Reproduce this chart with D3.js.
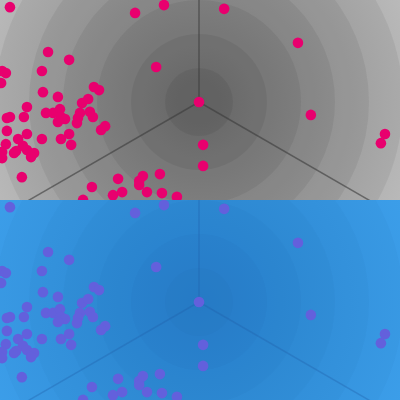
<!DOCTYPE html>
<html>
<head>
<meta charset="utf-8">
<script src="https://cdn.jsdelivr.net/npm/d3@7"></script>
<style>
  html, body { margin: 0; padding: 0; background: #fff; }
  svg { display: block; }
</style>
</head>
<body>
<div id="chart"></div>
<script>
// ring levels and the three spokes (degrees clockwise from top)
const ringLevels = [1, 2, 3, 4, 5, 6];
const axisAngles = [0, 120, 240];

// points, in ring units from the centre (x right, y up)
const points = [
  [-5.56, 2.79], [-1.88, 2.62], [-1.03, 2.85], [-4.44, 1.47], [-3.82, 1.24],
  [-4.62, 0.91], [-5.79, 0.91], [-5.68, 0.85], [-5.82, 0.56], [-1.26, 1.03],
  [-3.09, 0.44], [-2.94, 0.35], [-4.59, 0.29], [-4.15, 0.15], [-3.44, -0.03],
  [-3.26, 0.09], [-5.06, -0.15], [-4.50, -0.32], [-4.29, -0.32], [-4.09, -0.21],
  [-4.06, -0.44], [-3.94, -0.50], [-4.15, -0.59], [-3.50, -0.32], [-3.56, -0.47],
  [-3.59, -0.62], [-3.21, -0.29], [-3.12, -0.44], [-5.65, -0.47], [-5.56, -0.44],
  [-5.15, -0.44], [-2.76, -0.71], [-2.88, -0.82], [-5.65, -0.85], [-5.06, -0.94],
  [-5.32, -1.09], [-4.62, -1.09], [-4.06, -1.09], [-3.82, -0.94], [-3.76, -1.26],
  [-5.68, -1.24], [-5.18, -1.29], [-5.38, -1.44], [-5.44, -1.50], [-5.06, -1.41],
  [-4.85, -1.50], [-4.94, -1.62], [-5.79, -1.47], [-5.79, -1.65], [-5.21, -2.21],
  [-3.15, -2.50], [-2.38, -2.26], [-1.76, -2.32], [-1.65, -2.18], [-1.76, -2.44],
  [-1.15, -2.12], [-2.53, -2.74], [-2.26, -2.65], [-1.53, -2.65], [-1.09, -2.68],
  [-0.65, -2.79], [-3.41, -2.88], [0.74, 2.74], [2.91, 1.74], [3.29, -0.38],
  [5.47, -0.94], [5.35, -1.21], [0.12, -1.26], [0.12, -1.88], [0, 0]
];

const width = 400, panelH = 200;
const cx = 199, cy = 102, outerR = 204;

const themes = [
  { bg0: "#8e8e8e", bg1: "#bababa", ring: "#000", ringOp: 0.06,
    axis: "#3a3a3a", axisOp: 0.6, dot: "#e8006e" },
  { bg0: "#2e8ad8", bg1: "#3c9ee9", ring: "#00306a", ringOp: 0.025,
    axis: "#1f5fa8", axisOp: 0.35, dot: "#6360dc" }
];

const svg = d3.select("#chart").append("svg")
  .attr("width", width)
  .attr("height", panelH * 2);

const defs = svg.append("defs");

const x = d3.scaleLinear().domain([-6, 6]).range([cx - outerR, cx + outerR]);
const y = d3.scaleLinear().domain([-3, 3]).range([cy + outerR / 2, cy - outerR / 2]);
const r = d3.scaleLinear().domain([0, 6]).range([0, outerR]);

themes.forEach((t, i) => {
  const grad = defs.append("radialGradient")
    .attr("id", "bg" + i)
    .attr("gradientUnits", "userSpaceOnUse")
    .attr("cx", cx).attr("cy", cy).attr("r", 230);
  grad.append("stop").attr("offset", 0).attr("stop-color", t.bg0);
  grad.append("stop").attr("offset", 1).attr("stop-color", t.bg1);

  defs.append("clipPath").attr("id", "clip" + i)
    .append("rect").attr("width", width).attr("height", panelH);

  const g = svg.append("g")
    .attr("transform", `translate(0,${i * panelH})`)
    .attr("clip-path", `url(#clip${i})`);

  g.append("rect")
    .attr("width", width).attr("height", panelH)
    .attr("fill", `url(#bg${i})`);

  g.selectAll("circle.ring")
    .data(ringLevels.slice().reverse())
    .enter().append("circle")
    .attr("class", "ring")
    .attr("cx", cx).attr("cy", cy)
    .attr("r", d => r(d))
    .attr("fill", t.ring)
    .attr("fill-opacity", t.ringOp);

  g.selectAll("line.axis")
    .data(axisAngles)
    .enter().append("line")
    .attr("class", "axis")
    .attr("x1", cx).attr("y1", cy)
    .attr("x2", d => cx + r(6) * Math.sin(d * Math.PI / 180))
    .attr("y2", d => cy - r(6) * Math.cos(d * Math.PI / 180))
    .attr("stroke", t.axis)
    .attr("stroke-opacity", t.axisOp)
    .attr("stroke-width", 1.5);

  g.selectAll("circle.dot")
    .data(points)
    .enter().append("circle")
    .attr("class", "dot")
    .attr("cx", d => x(d[0]))
    .attr("cy", d => y(d[1]))
    .attr("r", 5.3)
    .attr("fill", t.dot);
});
</script>
</body>
</html>
